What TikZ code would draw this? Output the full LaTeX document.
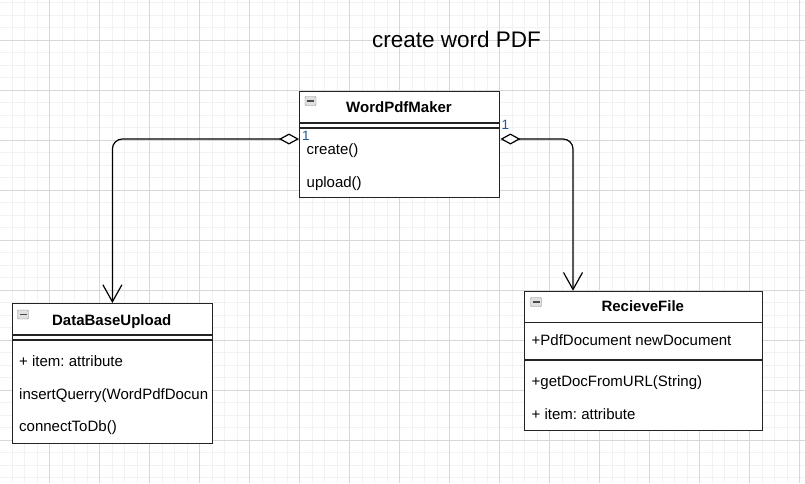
\documentclass[tikz,border=0pt]{standalone}
\usepackage{fontspec}
\setmainfont{Liberation Sans}
\usepackage{xcolor}
\usetikzlibrary{positioning,calc,arrows.meta}
\frenchspacing

\definecolor{gridminor}{RGB}{242,242,242}
\definecolor{gridmajor}{RGB}{215,215,215}
\definecolor{boxline}{RGB}{35,35,35}
\definecolor{multblue}{RGB}{25,90,150}

\tikzset{
    classbox/.style={draw=boxline, line width=1.4pt, fill=white, inner sep=0pt, anchor=north west},
    sepline/.style={boxline, line width=1.3pt},
    classname/.style={font=\bfseries\fontsize{15}{18}\selectfont, anchor=base, inner sep=0pt},
    member/.style={font=\fontsize{15}{18}\selectfont, anchor=base west, inner sep=0pt},
    mult/.style={font=\fontsize{13.5}{16}\selectfont, text=multblue, anchor=base west, inner sep=0pt},
    foldicon/.style={draw=black!45, fill=black!12, rounded corners=1pt, minimum width=11pt, minimum height=9pt, inner sep=0pt,
        path picture={\draw[black!70, line width=1.4pt] ([xshift=2pt]path picture bounding box.west) -- ([xshift=-2pt]path picture bounding box.east);}},
    aggr/.style={line width=1.2pt, rounded corners=10pt, {Diamond[fill=white, length=20pt, width=11pt]}-{Straight Barb[length=17pt, width=19pt]}}
}

\begin{document}
\begin{tikzpicture}[x=1pt, y=-1pt]
    \useasboundingbox (0,0) rectangle (805,483);
    \fill[white] (0,0) rectangle (805,483);

    % Background grid
    \foreach \i in {0,...,64}
        \draw[gridminor, line width=1pt] ({-0.5+12.5*\i},0) -- ({-0.5+12.5*\i},483);
    \foreach \j in {0,...,38}
        \draw[gridminor, line width=1pt] (0,{2.8+12.5*\j}) -- (805,{2.8+12.5*\j});
    \foreach \i in {0,...,16}
        \draw[gridmajor, line width=1pt] ({-0.5+50*\i},0) -- ({-0.5+50*\i},483);
    \foreach \j in {0,...,8}
        \draw[gridmajor, line width=1pt] (0,{40.3+50*\j}) -- (805,{40.3+50*\j});

    % Title
    \node[font=\fontsize{22.5}{27}\selectfont, anchor=base, inner sep=0pt] (title) at (456.5,47) {create word PDF};

    % WordPdfMaker
    \node[classbox, minimum width=200pt, minimum height=106pt] (maker) at (299,91) {};
    \node[foldicon] (makerIcon) at (310.5,101) {};
    \node[classname] (makerName) at (399,112) {WordPdfMaker};
    \draw[sepline] (299,123) -- (499,123);
    \draw[sepline] (299,128) -- (499,128);
    \node[member] (makerCreate) at (306.5,154) {create()};
    \node[member] (makerUpload) at (306.5,187) {upload()};

    % DataBaseUpload
    \node[classbox, minimum width=200pt, minimum height=140pt] (dbu) at (11.7,303) {};
    \node[foldicon] (dbuIcon) at (23,314.5) {};
    \node[classname] (dbuName) at (111.7,325) {DataBaseUpload};
    \draw[sepline] (11.7,335) -- (211.7,335);
    \draw[sepline] (11.7,340) -- (211.7,340);
    \node[member] (dbuItem) at (19,366) {+ item: attribute};
    \node[member] (dbuInsert) at (19,399) {insertQuerry(WordPdfDocun};
    \node[member] (dbuConnect) at (19,431.5) {connectToDb()};

    % RecieveFile
    \node[classbox, minimum width=238pt, minimum height=139pt] (rf) at (524,290.7) {};
    \node[foldicon] (rfIcon) at (536,302) {};
    \node[classname] (rfName) at (642.8,311.7) {RecieveFile};
    \draw[sepline] (524,322.7) -- (762,322.7);
    \node[member] (rfDoc) at (531.5,345.7) {+PdfDocument newDocument};
    \draw[sepline] (524,360) -- (762,360);
    \node[member] (rfGet) at (531.5,386) {+getDocFromURL(String)};
    \node[member] (rfItem) at (531.5,419) {+ item: attribute};

    % Aggregations
    \coordinate (makerL) at ([yshift=-48pt]maker.north west);
    \coordinate (makerR) at ([yshift=-48pt]maker.north east);
    \coordinate (rfIn) at ([xshift=49pt]rf.north west);
    \draw[aggr] (makerL) -| (dbu.north);
    \draw[aggr] (makerR) -| (rfIn);
    \node[mult] (multL) at (302,140) {1};
    \node[mult] (multR) at (501.5,129) {1};
\end{tikzpicture}
\end{document}
